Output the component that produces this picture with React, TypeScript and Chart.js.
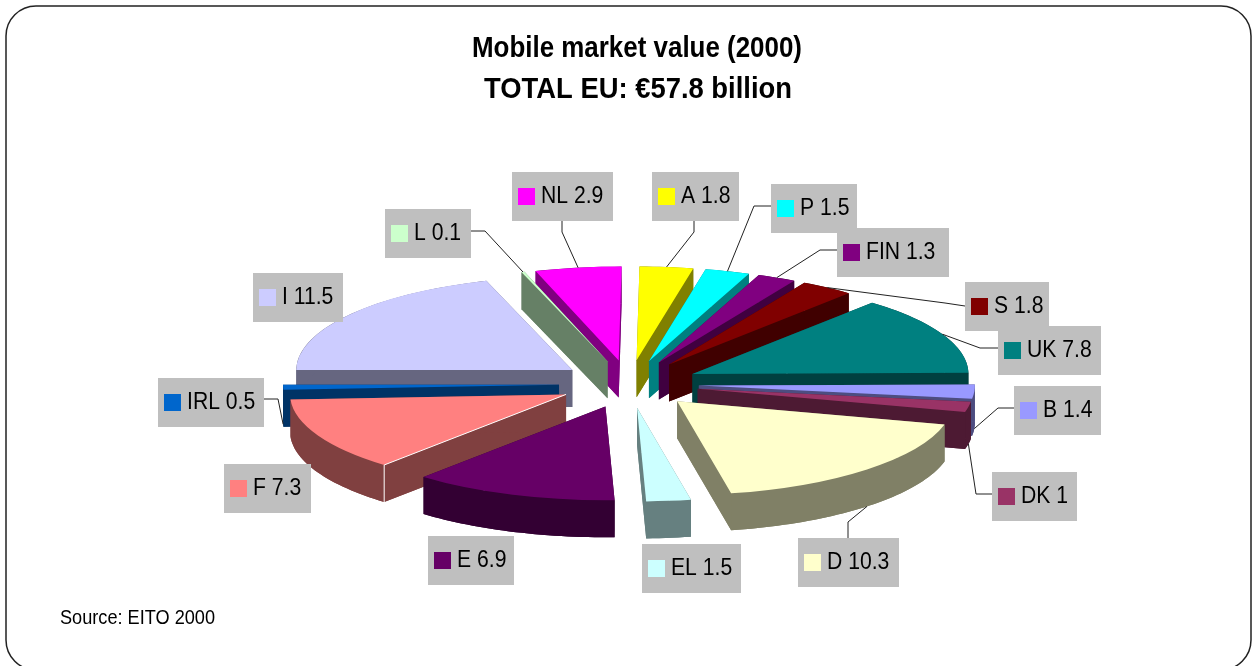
import React, { useEffect, useRef } from "react";
import { Chart, registerables } from "chart.js";

Chart.register(...registerables);

// ---- data, clockwise from twelve o'clock ----
const categories = ["A", "P", "FIN", "S", "UK", "B", "DK", "D", "EL", "E", "F", "IRL", "I", "L", "NL"];
const values = [1.8, 1.5, 1.3, 1.8, 7.8, 1.4, 1, 10.3, 1.5, 6.9, 7.3, 0.5, 11.5, 0.1, 2.9];
const topColors = ["#FFFF00", "#00FFFF", "#800080", "#800000", "#008080", "#9999FF", "#993366", "#FFFFCC", "#CCFFFF", "#660066", "#FF8080", "#0066CC", "#CCCCFF", "#CCFFCC", "#FF00FF"];
const wallColors = ["#808000", "#008080", "#400040", "#400000", "#004040", "#4D4D80", "#4D1A33", "#808066", "#668080", "#330033", "#804040", "#003366", "#666680", "#668066", "#800080"];
const titleLines = ["Mobile market value (2000)", "TOTAL EU: €57.8 billion"];
const sourceText = "Source: EITO 2000";

// ---- layout, kept apart from the data ----
const W = 1257;
const H = 666;
const pieCenter = { x: 629, y: 384 };
const tilt = 0.34;
const depth = 37;
const explode = 70;
const pieRadius = 276;
const pieRotation = 0.6;
const boxHeight = 49;
const labelBoxes: Record<string, [number, number]> = {
  A: [652, 172], P: [771, 184], FIN: [837, 228], S: [965, 282], UK: [998, 326],
  B: [1014, 386], DK: [992, 472], D: [798, 538], EL: [642, 544], E: [428, 536],
  F: [224, 464], IRL: [158, 378], I: [253, 273], L: [385, 209], NL: [512, 172],
};
const labelWidths: Record<string, number> = {
  A: 87, P: 86, FIN: 112, S: 84, UK: 103, B: 87, DK: 85, D: 101, EL: 99, E: 86,
  F: 87, IRL: 106, I: 90, L: 86, NL: 101,
};
const leaderElbows: Record<string, number[][]> = {
  NL: [[562, 221], [562, 232]],
  A: [[694, 221], [694, 232]],
  P: [[771, 206], [754, 206]],
  FIN: [[837, 250], [820, 250]],
  S: [[965, 306], [945, 303]],
  UK: [[998, 348], [980, 348]],
  B: [[1014, 408], [998, 408]],
  DK: [[992, 494], [976, 494]],
  D: [[848, 538], [848, 522]],
  IRL: [[264, 399], [278, 399]],
  L: [[470, 231], [485, 231]],
};
const FONT = '"Liberation Sans", Arial, sans-serif';

function placeSlice(ctx: CanvasRenderingContext2D, el: any) {
  const half = (el.startAngle + el.endAngle) / 2;
  ctx.translate(
    pieCenter.x + Math.cos(half) * explode,
    pieCenter.y + Math.sin(half) * explode * tilt
  );
  ctx.scale(1, tilt);
  ctx.translate(-el.x, -el.y);
}

function project(el: any, angle: number, radius: number, lift: number) {
  const half = (el.startAngle + el.endAngle) / 2;
  return {
    x: pieCenter.x + Math.cos(half) * explode + Math.cos(angle) * radius,
    y: pieCenter.y + (Math.sin(half) * explode + Math.sin(angle) * radius) * tilt + lift,
  };
}

function fillPoly(ctx: CanvasRenderingContext2D, pts: { x: number; y: number }[]) {
  ctx.beginPath();
  pts.forEach((p, i) => (i ? ctx.lineTo(p.x, p.y) : ctx.moveTo(p.x, p.y)));
  ctx.closePath();
  ctx.fill();
}

function drawWalls(ctx: CanvasRenderingContext2D, el: any, color: string) {
  const R = el.outerRadius;
  const steps = Math.max(2, Math.ceil((el.endAngle - el.startAngle) * 40));
  const top: { x: number; y: number }[] = [];
  const bottom: { x: number; y: number }[] = [];
  for (let s = 0; s <= steps; s++) {
    const a = el.startAngle + ((el.endAngle - el.startAngle) * s) / steps;
    top.push(project(el, a, R, 0));
    bottom.push(project(el, a, R, depth));
  }
  const apexTop = project(el, el.startAngle, 0, 0);
  const apexBottom = project(el, el.startAngle, 0, depth);
  ctx.save();
  ctx.fillStyle = color;
  fillPoly(ctx, [apexBottom, ...bottom]);
  fillPoly(ctx, [apexTop, top[0], bottom[0], apexBottom]);
  fillPoly(ctx, [apexTop, top[steps], bottom[steps], apexBottom]);
  fillPoly(ctx, [...top, ...bottom.slice().reverse()]);
  ctx.restore();
}

const framePlugin = {
  id: "frame",
  beforeDraw(chart: any) {
    const ctx: CanvasRenderingContext2D = chart.ctx;
    ctx.save();
    ctx.fillStyle = "#ffffff";
    ctx.fillRect(0, 0, W, H);
    ctx.strokeStyle = "#222222";
    ctx.lineWidth = 1.5;
    ctx.beginPath();
    ctx.roundRect(6, 6, 1245, 664, 30);
    ctx.stroke();
    ctx.fillStyle = "#000000";
    ctx.textAlign = "center";
    ctx.font = `bold 30px ${FONT}`;
    ctx.fillText(titleLines[0], 637, 57, 330);
    ctx.fillText(titleLines[1], 638, 98, 308);
    ctx.textAlign = "left";
    ctx.font = `20px ${FONT}`;
    ctx.fillText(sourceText, 60, 624, 155);
    ctx.restore();
  },
};

const pie3dPlugin = {
  id: "pie3d",
  beforeDatasetDraw(chart: any, args: any) {
    const ctx: CanvasRenderingContext2D = chart.ctx;
    const arcs: any[] = args.meta.data;
    const order = arcs
      .map((el, i) => ({ el, i, mid: (el.startAngle + el.endAngle) / 2 }))
      .sort((a, b) => Math.sin(a.mid) - Math.sin(b.mid));
    for (const { el, i } of order) {
      drawWalls(ctx, el, wallColors[i]);
      ctx.save();
      placeSlice(ctx, el);
      el.draw(ctx);
      ctx.restore();
      if (categories[i] === "F") {
        const apex = project(el, el.startAngle, 0, 0);
        const rim = project(el, el.startAngle, el.outerRadius, 0);
        ctx.save();
        ctx.strokeStyle = "#ffffff";
        ctx.lineWidth = 1;
        ctx.beginPath();
        ctx.moveTo(apex.x, apex.y);
        ctx.lineTo(rim.x, rim.y);
        ctx.lineTo(rim.x, rim.y + depth);
        ctx.stroke();
        ctx.restore();
      }
    }
    return false;
  },
  afterDatasetsDraw(chart: any) {
    const ctx: CanvasRenderingContext2D = chart.ctx;
    const arcs: any[] = chart.getDatasetMeta(0).data;
    ctx.save();
    ctx.strokeStyle = "#222222";
    ctx.lineWidth = 1;
    categories.forEach((name, i) => {
      const elbows = leaderElbows[name];
      if (!elbows) return;
      const el = arcs[i];
      const mid = (el.startAngle + el.endAngle) / 2;
      const end = project(el, mid, el.outerRadius, Math.sin(mid) > 0 ? depth : 0);
      ctx.beginPath();
      ctx.moveTo(elbows[0][0], elbows[0][1]);
      elbows.slice(1).forEach((p) => ctx.lineTo(p[0], p[1]));
      ctx.lineTo(end.x, end.y);
      ctx.stroke();
    });
    categories.forEach((name, i) => {
      const [x, y] = labelBoxes[name];
      ctx.fillStyle = "#BFBFBF";
      ctx.fillRect(x, y, labelWidths[name], boxHeight);
      ctx.fillStyle = topColors[i];
      ctx.fillRect(x + 6, y + 16, 17, 17);
      ctx.fillStyle = "#000000";
      ctx.font = `23px ${FONT}`;
      ctx.textAlign = "left";
      const text = `${name} ${values[i]}`;
      ctx.fillText(text, x + 29, y + 31, ctx.measureText(text).width * 0.92);
    });
    ctx.restore();
  },
};

export default function App() {
  const ref = useRef<HTMLCanvasElement>(null);
  useEffect(() => {
    const chart = new Chart(ref.current as HTMLCanvasElement, {
      type: "pie",
      data: {
        labels: categories,
        datasets: [{ data: values, backgroundColor: topColors, borderWidth: 0 }],
      },
      options: {
        responsive: false,
        animation: false,
        radius: pieRadius,
        rotation: pieRotation,
        events: [],
        plugins: { legend: { display: false }, tooltip: { enabled: false }, title: { display: false } },
      } as any,
      plugins: [framePlugin, pie3dPlugin],
    });
    return () => chart.destroy();
  }, []);
  return (
    <div style={{ position: "fixed", left: 0, top: 0, width: W, height: H, overflow: "hidden" }}>
      <canvas ref={ref} width={W} height={H} style={{ display: "block" }} />
    </div>
  );
}
